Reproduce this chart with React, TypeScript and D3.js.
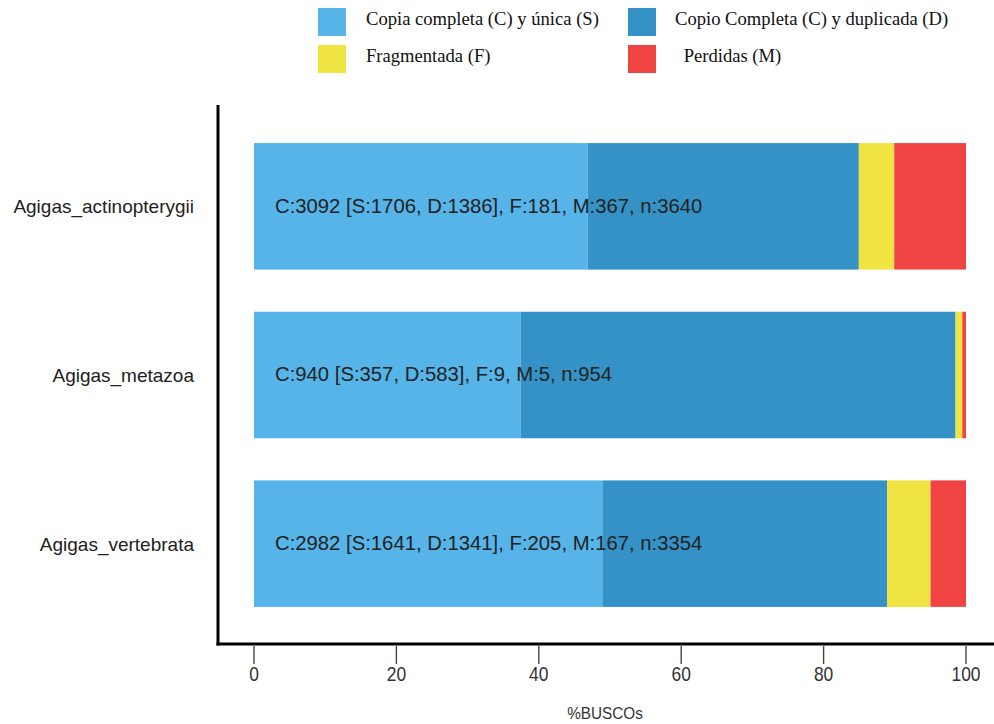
import React from "react";
import * as d3 from "d3";

const categories = ["Agigas_actinopterygii", "Agigas_metazoa", "Agigas_vertebrata"];
const singleCopy = [1706, 357, 1641];
const duplicated = [1386, 583, 1341];
const fragmented = [181, 9, 205];
const missing = [367, 5, 167];
const totals = [3640, 954, 3354];
const seriesNames = ["Copia completa (C) y única (S)", "Copio Completa (C) y duplicada (D)", "Fragmentada (F)", " Perdidas (M)"];
const seriesColors = ["#56B4E9", "#3492C7", "#F0E442", "#F04442"];
const xTicks = [0, 20, 40, 60, 80, 100];

export default function App() {
  const W = 994, H = 724;
  const x = d3.scaleLinear().domain([0, 100]).range([254, 966]);
  const y = d3.scaleBand().domain(categories).range([122, 628]).paddingInner(0.25).paddingOuter(0.125);

  const rows = categories.map((c, i) => {
    const vals = [singleCopy[i], duplicated[i], fragmented[i], missing[i]].map(v => (v / totals[i]) * 100);
    const stack: { x0: number; x1: number; color: string }[] = [];
    let acc = 0;
    vals.forEach((v, k) => {
      stack.push({ x0: acc, x1: acc + v, color: seriesColors[k] });
      acc += v;
    });
    const label = `C:${singleCopy[i] + duplicated[i]} [S:${singleCopy[i]}, D:${duplicated[i]}], F:${fragmented[i]}, M:${missing[i]}, n:${totals[i]}`;
    return { c, stack, label };
  });

  const legendPos = [
    { sx: 318, sy: 8, tx: 366 },
    { sx: 628, sy: 8, tx: 675 },
    { sx: 318, sy: 45, tx: 366 },
    { sx: 628, sy: 45, tx: 679 },
  ];

  return (
    <svg width={W} height={H} style={{ position: "absolute", left: 0, top: 0, background: "#fff" }}>
      {seriesNames.map((n, k) => (
        <g key={n}>
          <rect x={legendPos[k].sx} y={legendPos[k].sy} width={28} height={28} fill={seriesColors[k]} />
          <text x={legendPos[k].tx} y={legendPos[k].sy + 13} dominantBaseline="middle"
            fontFamily="Liberation Serif, serif" fontSize={18.6} fill="#111" style={{ whiteSpace: "pre" }}>{n}</text>
        </g>
      ))}
      {rows.map(r => (
        <g key={r.c}>
          {r.stack.map((s, k) => (
            <rect key={k} x={x(s.x0)} y={y(r.c)!} width={x(s.x1) - x(s.x0)} height={y.bandwidth()} fill={s.color} />
          ))}
          <text x={275} y={y(r.c)! + y.bandwidth() / 2 + 1} dominantBaseline="middle"
            fontFamily="Liberation Sans, Arial, sans-serif" fontSize={20.3} fill="#222">{r.label}</text>
          <text x={194} y={y(r.c)! + y.bandwidth() / 2 + 2} dominantBaseline="middle" textAnchor="end"
            fontFamily="Liberation Sans, Arial, sans-serif" fontSize={19} fill="#222">{r.c}</text>
        </g>
      ))}
      <line x1={218} x2={218} y1={105} y2={645.5} stroke="#000" strokeWidth={3} />
      <line x1={216.5} x2={994} y1={644} y2={644} stroke="#000" strokeWidth={3} />
      {xTicks.map(t => (
        <g key={t}>
          <line x1={x(t)} x2={x(t)} y1={646} y2={664} stroke="#444" strokeWidth={1.4} />
          <text x={x(t)} y={676} textAnchor="middle" dominantBaseline="middle"
            fontFamily="Liberation Sans, Arial, sans-serif" fontSize={20.5} fill="#333"
            transform={`translate(${x(t)},0) scale(0.85,1) translate(${-x(t)},0)`}>{t}</text>
        </g>
      ))}
      <text x={605} y={715} textAnchor="middle" dominantBaseline="middle"
        fontFamily="Liberation Sans, Arial, sans-serif" fontSize={17} fill="#333"
        transform={`translate(605,0) scale(0.9,1) translate(-605,0)`}>%BUSCOs</text>
    </svg>
  );
}
